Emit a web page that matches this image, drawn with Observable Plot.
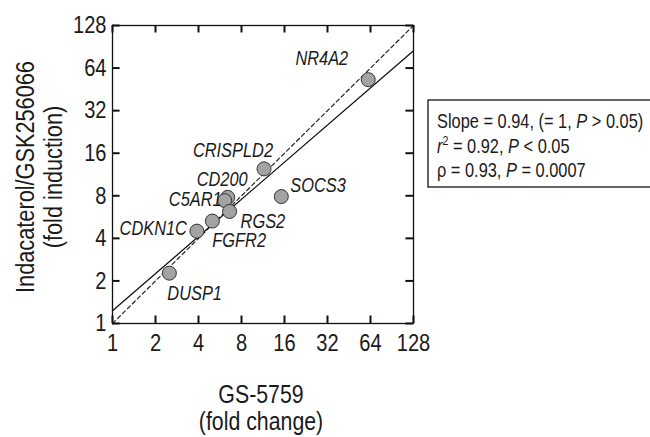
<!DOCTYPE html>
<html><head><meta charset="utf-8">
<script src="https://cdn.jsdelivr.net/npm/d3@7"></script>
<script src="https://cdn.jsdelivr.net/npm/@observablehq/plot@0.6"></script>
<style>body{margin:0;background:#fff;}</style>
</head><body><div id="chart"></div>
<script>
// ---- data ----
const genes = ["NR4A2", "CRISPLD2", "CD200", "C5AR1", "CDKN1C", "FGFR2", "RGS2", "SOCS3", "DUSP1"];
const gs5759Fold = [61.7, 11.5, 6.4, 6.1, 3.9, 5.0, 6.6, 15.2, 2.5];
const indacaterolFold = [53, 12.4, 7.8, 7.4, 4.5, 5.3, 6.2, 7.9, 2.27];
const axisTicks = [1, 2, 4, 8, 16, 32, 64, 128];
const identityX = [1, 128];
const identityY = [1, 128];
const fitX = [1, 128];
const fitY = [1.23, 85];
const xLabel = "GS-5759\n(fold change)";
const yLabel = "Indacaterol/GSK256066\n(fold induction)";
const statsLines = [
  [{t: "Slope = 0.94, (= 1, "}, {t: "P", i: true}, {t: " > 0.05)"}],
  [{t: "r", i: true}, {t: "2", sup: true}, {t: " = 0.92, "}, {t: "P", i: true}, {t: " < 0.05"}],
  [{t: "ρ = 0.93, "}, {t: "P", i: true}, {t: " = 0.0007"}]
];

// ---- label layout (placement only) ----
const labelLayout = [
  {anchor: "end", dx: -20, dy: -21},
  {anchor: "end", dx: 9, dy: -18},
  {anchor: "end", dx: 20, dy: -18},
  {anchor: "end", dx: -3, dy: -1},
  {anchor: "end", dx: -10, dy: -3},
  {anchor: "start", dx: 0, dy: 20},
  {anchor: "start", dx: 11, dy: 10},
  {anchor: "start", dx: 9, dy: -11},
  {anchor: "start", dx: -2, dy: 20}
];

const FONT = "'Liberation Sans', Arial, sans-serif";
const NARROW = 0.82; // horizontal condensing to mimic Arial Narrow
const INK = "#1a1a1a";
const TICK_SPAN = 1.13; // inward tick length as a factor on the log-2 axes (~7-8px)
const points = genes.map((g, i) => ({gene: g, x: gs5759Fold[i], y: indacaterolFold[i]}));
const identity = identityX.map((x, i) => ({x, y: identityY[i]}));
const fit = fitX.map((x, i) => ({x, y: fitY[i]}));

const labelMarks = points.map((p, i) => Plot.text([p], {
  x: "x", y: "y", text: "gene",
  textAnchor: labelLayout[i].anchor, dx: labelLayout[i].dx, dy: labelLayout[i].dy,
  fontStyle: "italic", fontSize: 20, fill: INK
}));

const tickStyle = {stroke: "#111", strokeWidth: 2};
const lo = axisTicks[0], hi = axisTicks[axisTicks.length - 1];
const chart = Plot.plot({
  width: 650, height: 437,
  marginLeft: 112, marginRight: 237, marginTop: 25, marginBottom: 114,
  style: {fontFamily: FONT, fontSize: "24px", color: INK, background: "#fff", overflow: "visible"},
  x: {type: "log", base: 2, domain: [1, 128]},
  y: {type: "log", base: 2, domain: [1, 128]},
  marks: [
    Plot.axisX({ticks: axisTicks, tickSize: 0, tickPadding: 10, tickFormat: d => String(d), label: null, fontSize: 24.5}),
    Plot.axisY({ticks: axisTicks, tickSize: 0, tickPadding: 6, tickFormat: d => String(d), label: null, fontSize: 24.5}),
    // inward tick marks on all four sides of the frame
    Plot.ruleX(axisTicks, {x: d => d, y1: lo, y2: lo * TICK_SPAN, ...tickStyle}),
    Plot.ruleX(axisTicks, {x: d => d, y1: hi, y2: hi / TICK_SPAN, ...tickStyle}),
    Plot.ruleY(axisTicks, {y: d => d, x1: lo, x2: lo * TICK_SPAN, ...tickStyle}),
    Plot.ruleY(axisTicks, {y: d => d, x1: hi, x2: hi / TICK_SPAN, ...tickStyle}),
    Plot.line(identity, {x: "x", y: "y", stroke: "#222", strokeWidth: 1.2, strokeDasharray: "4,3"}),
    Plot.line(fit, {x: "x", y: "y", stroke: "#111", strokeWidth: 1.3}),
    Plot.dot(points, {x: "x", y: "y", r: 7, fill: "#a3a3a3", stroke: "#333", strokeWidth: 1}),
    ...labelMarks,
    Plot.frame({stroke: "#111", strokeWidth: 1.3}),
    Plot.text([yLabel], {frameAnchor: "left", rotate: -90, dx: -73.5, dy: 2.5, lineHeight: 1.04, fontSize: 26.5, textAnchor: "middle", lineAnchor: "middle", fill: INK}),
    Plot.text([xLabel], {frameAnchor: "bottom", dx: -2, dy: 84, lineHeight: 1.04, fontSize: 26, textAnchor: "middle", lineAnchor: "middle", fill: INK})
  ]
});

document.getElementById("chart").appendChild(chart);

// condense all Plot text horizontally around its anchor point
d3.select(chart).selectAll("text").each(function() {
  const tr = this.getAttribute("transform") || "";
  this.setAttribute("transform", tr + ` scale(${NARROW},1)`);
});

// ---- statistics box annotation ----
const svg = d3.select(chart);
const box = svg.append("g").attr("font-family", FONT)
  .attr("font-size", 20).attr("fill", INK).attr("text-anchor", "start");
box.append("rect").attr("x", 428).attr("y", 100).attr("width", 240).attr("height", 87)
  .attr("fill", "none").attr("stroke", "#111").attr("stroke-width", 1.3);
statsLines.forEach((line, li) => {
  const t = box.append("text").attr("transform", `translate(437,${128 + li * 24.5}) scale(${NARROW},1)`).attr("text-anchor", "start");
  let afterSup = false;
  line.forEach(seg => {
    const s = t.append("tspan").text(seg.t);
    if (seg.i) s.attr("font-style", "italic");
    if (seg.sup) { s.attr("font-size", 13).attr("dy", -8); afterSup = true; }
    else if (afterSup) { s.attr("dy", 8); afterSup = false; }
  });
});
</script>
</body></html>
